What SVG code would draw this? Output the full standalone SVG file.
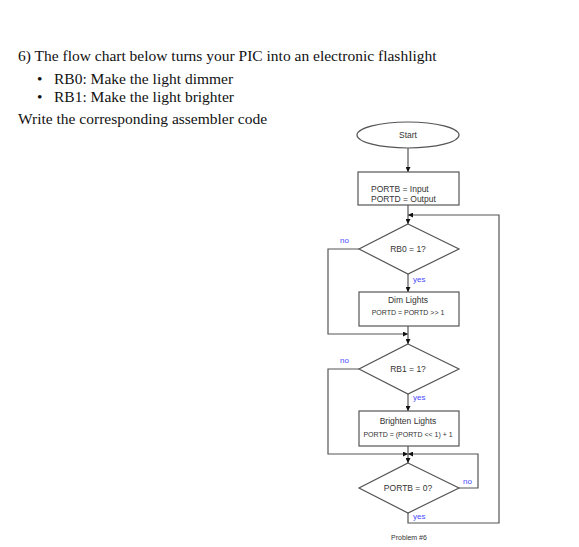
<svg xmlns="http://www.w3.org/2000/svg" width="579" height="547" viewBox="0 0 579 547">
<defs>
<marker id="ah" viewBox="0 0 10 10" refX="10" refY="5" markerWidth="5" markerHeight="5" orient="auto" markerUnits="userSpaceOnUse">
<path d="M0,0 L10,5 L0,10 z" fill="#111"/>
</marker>
<style>
.t{font-family:"Liberation Serif","Times New Roman",serif;font-size:15.5px;fill:#111}
.n{fill:#fff;stroke:#555;stroke-width:1.2}
.l{font-family:"Liberation Sans",Arial,sans-serif;font-size:8.5px;fill:#333;text-anchor:middle}
.s{font-family:"Liberation Sans",Arial,sans-serif;font-size:7px;fill:#333;text-anchor:middle}
.c{fill:none;stroke:#555;stroke-width:1.2}
.y{font-family:"Liberation Sans",Arial,sans-serif;font-size:8px;fill:#4a4aff}
</style>
</defs>
<rect width="579" height="547" fill="#fff"/>
<text class="t" x="18" y="61">6) The flow chart below turns your PIC into an electronic flashlight</text>
<text class="t" x="37" y="84">•</text>
<text class="t" x="54" y="84">RB0:  Make the light dimmer</text>
<text class="t" x="37" y="102">•</text>
<text class="t" x="54" y="102">RB1:  Make the light brighter</text>
<text class="t" x="18" y="124">Write the corresponding assembler code</text>

<g id="connectors">
<path class="c" d="M408,148 V172" marker-end="url(#ah)"/>
<path class="c" d="M408,205 V224" marker-end="url(#ah)"/>
<path class="c" d="M408,513 V523 H499 V215 H408" marker-end="url(#ah)"/>
<path class="c" d="M408,274 V292" marker-end="url(#ah)"/>
<path class="c" d="M359,249 H328 V334 H408" marker-end="url(#ah)"/>
<path class="c" d="M408,326 V344" marker-end="url(#ah)"/>
<path class="c" d="M408,394 V411" marker-end="url(#ah)"/>
<path class="c" d="M359,369 H328 V454 H408" marker-end="url(#ah)"/>
<path class="c" d="M408,446 V463" marker-end="url(#ah)"/>
<path class="c" d="M459,488 H478 V454 H408" marker-end="url(#ah)"/>
<text class="y" x="340" y="243">no</text>
<text class="y" x="413" y="282">yes</text>
<text class="y" x="340" y="363">no</text>
<text class="y" x="413" y="400">yes</text>
<text class="y" x="463" y="484">no</text>
<text class="y" x="413" y="519">yes</text>
</g>

<g id="start">
<ellipse class="n" cx="408" cy="135" rx="51" ry="13"/>
<text class="l" x="408" y="138">Start</text>
</g>
<g id="init">
<rect class="n" x="358" y="172" width="101" height="33"/>
<text class="l" style="text-anchor:start" x="371" y="192">PORTB = Input</text>
<text class="l" style="text-anchor:start" x="371" y="202">PORTD = Output</text>
</g>
<g id="rb0">
<polygon class="n" points="408,224 459,249 408,274 359,249"/>
<text class="l" x="408" y="252">RB0 = 1?</text>
</g>
<g id="dim">
<rect class="n" x="359" y="292" width="100" height="34"/>
<text class="l" x="408" y="303">Dim Lights</text>
<text class="s" x="408" y="315">PORTD = PORTD &gt;&gt; 1</text>
</g>
<g id="rb1">
<polygon class="n" points="408,344 459,369 408,394 359,369"/>
<text class="l" x="408" y="372">RB1 = 1?</text>
</g>
<g id="brighten">
<rect class="n" x="359" y="411" width="100" height="35"/>
<text class="l" x="408" y="424">Brighten Lights</text>
<text class="s" x="408" y="437">PORTD = (PORTD &lt;&lt; 1) + 1</text>
</g>
<g id="portb0">
<polygon class="n" points="408,463 459,488 408,513 359,488"/>
<text class="l" x="408" y="491">PORTB = 0?</text>
</g>
<text class="s" x="409" y="540">Problem #6</text>
</svg>
